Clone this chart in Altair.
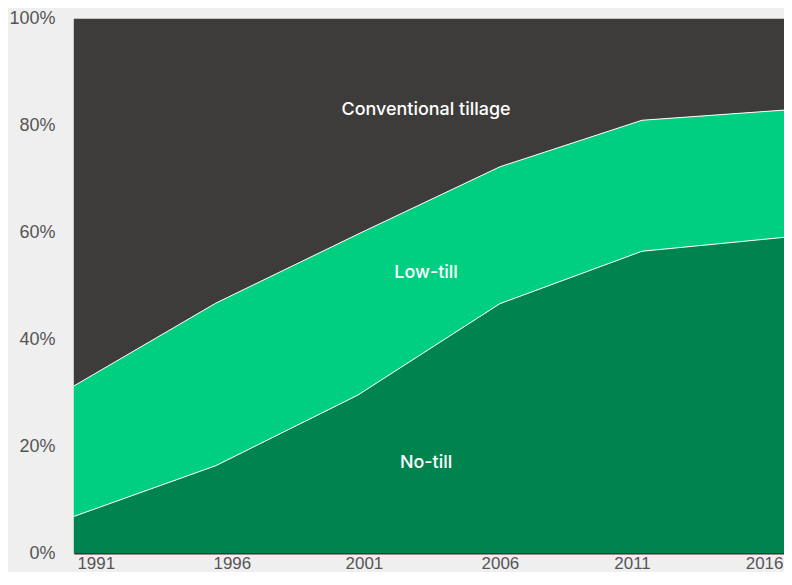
import altair as alt
import pandas as pd

years = [1991, 1996, 2001, 2006, 2011, 2016]
no_till = [6.9, 16.4, 29.6, 46.7, 56.5, 59.1]
low_till = [24.4, 30.4, 30.1, 25.6, 24.5, 23.8]
conventional = [68.7, 53.2, 40.3, 27.7, 19.0, 17.1]

series_names = ["No-till", "Low-till", "Conventional tillage"]
series_colors = ["#00834f", "#00cf82", "#3e3c3a"]

label_x = [2003.4, 2003.4, 2003.4]
label_y = [16.9, 52.4, 82.9]

rows = []
for i, y in enumerate(years):
    for k, (name, vals) in enumerate(zip(series_names, [no_till, low_till, conventional])):
        rows.append({"year": y, "series": name, "value": vals[i], "order": k})
df = pd.DataFrame(rows)

bound_rows = []
for i, y in enumerate(years):
    bound_rows.append({"year": y, "b": "nt", "v": no_till[i]})
    bound_rows.append({"year": y, "b": "lt", "v": no_till[i] + low_till[i]})
bdf = pd.DataFrame(bound_rows)

ldf = pd.DataFrame({"label": series_names, "x": label_x, "y": label_y})

FONT = "Liberation Sans"

x_scale = alt.Scale(domain=[1991, 2016], nice=False, zero=False)
y_scale = alt.Scale(domain=[0, 100], nice=False)

offsets = {1991: 22, 1996: 16, 2001: 6, 2006: 0, 2011: -10, 2016: -20}
label_offset = {
    "condition": [{"test": f"datum.value === {k}", "value": v} for k, v in offsets.items()],
    "value": 0,
}

x_axis = alt.Axis(
    values=years, format="d", title=None, ticks=False, grid=False,
    labelFont=FONT, labelFontSize=17, labelColor="#555555",
    labelPadding=2, labelBaseline="top", labelAlign="center",
    labelOffset=label_offset, labelOverlap=False, labelFlush=False,
    domainColor="#333333", domainWidth=1.5, zindex=1,
)
y_axis = alt.Axis(
    values=[0, 20, 40, 60, 80, 100], labelExpr="datum.value + '%'", title=None,
    ticks=False, grid=False, labelFont=FONT, labelFontSize=18, labelColor="#555555",
    labelPadding=19, domainColor="#cccccc", domainWidth=1, labelFlush=False,
)

area = alt.Chart(df).mark_area(opacity=1).encode(
    x=alt.X("year:Q", scale=x_scale, axis=x_axis),
    y=alt.Y("value:Q", stack="zero", scale=y_scale, axis=y_axis),
    color=alt.Color("series:N", scale=alt.Scale(domain=series_names, range=series_colors), legend=None),
    order=alt.Order("order:Q", sort="ascending"),
)

lines = alt.Chart(bdf).mark_line(color="white", strokeWidth=1).encode(
    x=alt.X("year:Q", scale=x_scale),
    y=alt.Y("v:Q", scale=y_scale),
    detail="b:N",
)

texts = alt.Chart(ldf).mark_text(
    color="white", font="Inter", fontSize=18, fontWeight=500, align="center", baseline="middle"
).encode(
    x=alt.X("x:Q", scale=x_scale),
    y=alt.Y("y:Q", scale=y_scale),
    text="label:N",
)

chart = alt.layer(area, lines, texts).properties(
    width=712, height=536,
    background="#efefef",
    padding={"left": 66, "top": 10, "right": 0, "bottom": 18},
    autosize=alt.AutoSizeParams(type="none"),
).configure_view(stroke=None)

chart.save("out.html", embed_options={"renderer": "svg", "actions": False})
